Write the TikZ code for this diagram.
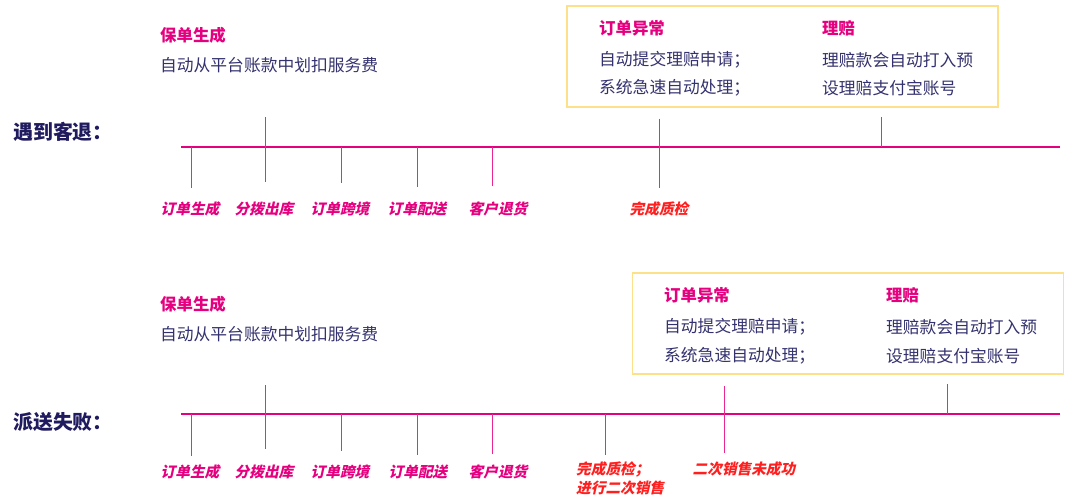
\documentclass[tikz,border=0pt]{standalone}
\usepackage{fontspec}
\newfontfamily\cjk{Noto Sans CJK SC}
\newfontfamily\cjkslant[FakeSlant=0.22]{Noto Sans CJK SC}
\usetikzlibrary{positioning}

\definecolor{rose}{HTML}{E5007F}
\definecolor{ink}{HTML}{1F1B5E}
\definecolor{navy}{HTML}{34326E}
\definecolor{alert}{HTML}{FF1F1F}
\definecolor{straw}{HTML}{FDE18A}

\begin{document}
\begin{tikzpicture}[
    x=0.03cm, y=-0.03cm,
    font=\cjk,
    scene/.style={font=\cjk\bfseries\fontsize{17}{20}\selectfont, text=ink, anchor=west, inner sep=0pt},
    head/.style={font=\cjk\bfseries\fontsize{14}{17}\selectfont, text=rose, anchor=west, inner sep=0pt},
    body/.style={font=\cjk\fontsize{14.3}{17}\selectfont, text=navy, anchor=west, inner sep=0pt},
    stage/.style={font=\cjkslant\bfseries\fontsize{12.5}{16}\selectfont, text=rose, inner sep=0pt},
    result/.style={stage, text=alert},
    panel/.style={rectangle, draw=straw, line width=1.1pt, minimum width=12.93cm, minimum height=3.03cm},
    axis/.style={draw=rose, line width=2.4pt},
    tick/.style={draw=rose!85, line width=0.8pt}
]
\useasboundingbox (0,0) rectangle (1080,504);

% 遇到客退
\node[scene] (case1) at (13,132) {遇到客退：};
\node[head] (policy1) at (160,35) {保单生成};
\node[body] (fee1) at (160,65) {自动从平台账款中划扣服务费};

\node[panel] (box1) at (782.5,56.5) {};
\node[head] (odd1) at (599,28) {订单异常};
\node[body] (odd1a) at (599,60) {自动提交理赔申请；};
\node[body] (odd1b) at (599,88) {系统急速自动处理；};
\node[head] (pay1) at (822,28) {理赔};
\node[body] (pay1a) at (822,60) {理赔款会自动打入预};
\node[body] (pay1b) at (822,88) {设理赔支付宝账号};

\coordinate (r1s) at (181,147);
\coordinate (r1e) at (1060,147);
\draw[axis] (r1s) -- (r1e);

\foreach \x/\lx/\top/\bot/\txt [count=\i] in {191/190/147/188/订单生成, 265/264/117/182/分拨出库, 341/340/147/183/订单跨境, 417/417/147/187/订单配送, 492/498/147/186/客户退货}{
    \node[stage] (s1\i) at (\lx,209) {\txt};
    \draw[tick] (\x,\top) -- (\x,\bot);
}
\node[result] (check1) at (659,209) {完成质检};
\draw[tick] (check1.north |- box1.south) ++(0,11) -- (659,188);
\draw[tick] (881,117) -- (881,147);

% 派送失败
\node[scene] (case2) at (13,422) {派送失败：};
\node[head] (policy2) at (160,304) {保单生成};
\node[body] (fee2) at (160,334) {自动从平台账款中划扣服务费};

\node[panel] (box2) at (848,323.5) {};
\node[head] (odd2) at (664,295) {订单异常};
\node[body] (odd2a) at (664,327) {自动提交理赔申请；};
\node[body] (odd2b) at (664,356) {系统急速自动处理；};
\node[head] (pay2) at (886,295) {理赔};
\node[body] (pay2a) at (886,327) {理赔款会自动打入预};
\node[body] (pay2b) at (886,356) {设理赔支付宝账号};

\coordinate (r2s) at (181,414);
\coordinate (r2e) at (1060,414);
\draw[axis] (r2s) -- (r2e);

\foreach \x/\lx/\top/\bot/\txt [count=\i] in {191/190/414/456/订单生成, 265/264/385/449/分拨出库, 341/340/414/451/订单跨境, 417/418/414/455/订单配送, 492/498/414/454/客户退货}{
    \node[stage] (s2\i) at (\lx,472) {\txt};
    \draw[tick] (\x,\top) -- (\x,\bot);
}
\node[result, anchor=west, align=left] (check2) at (576,478.5) {完成质检；\\进行二次销售};
\node[result] (fail2) at (744,469) {二次销售未成功};
\draw[tick] (605,414) -- (605,455);
\draw[tick] (724,386) -- (724,453);
\draw[tick] (947,384) -- (947,414);
\end{tikzpicture}
\end{document}
